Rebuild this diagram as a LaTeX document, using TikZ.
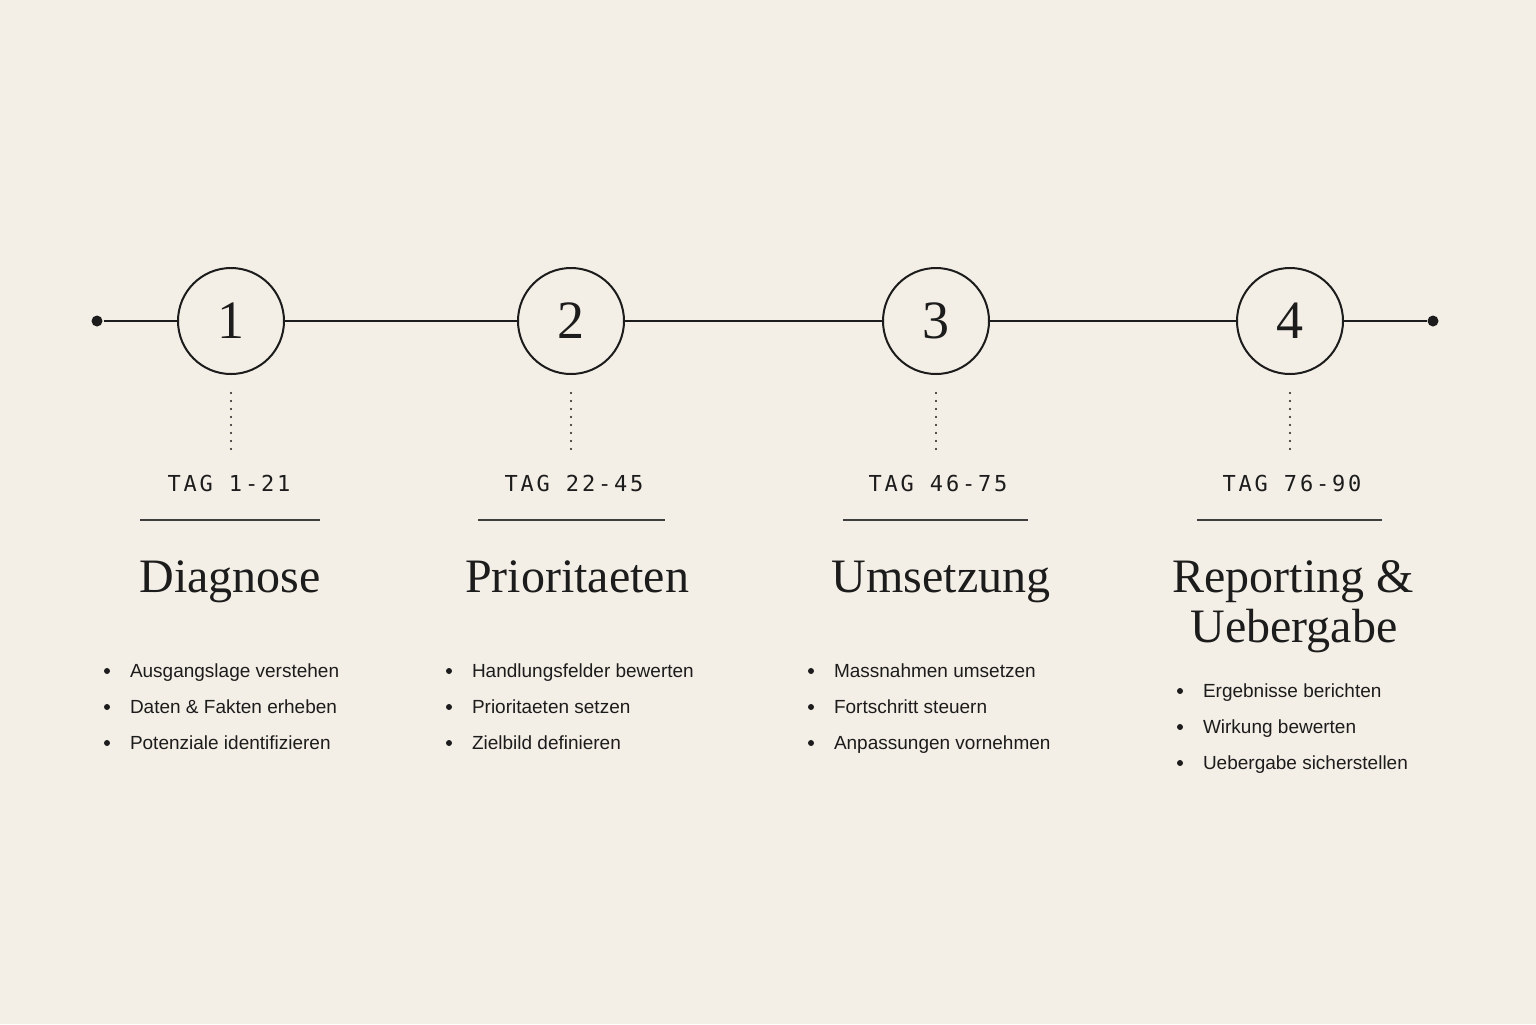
\documentclass[tikz,border=0pt]{standalone}
\usepackage{fontspec}
\setmainfont{Liberation Serif}
\setsansfont{Liberation Sans}
\newfontfamily\tagfont[LetterSpace=12.7]{DejaVu Sans Mono}
\definecolor{paper}{HTML}{F4EFE6}
\definecolor{ink}{HTML}{1C1C1C}

\begin{document}
\begin{tikzpicture}[x=0.5pt, y=-0.5pt, color=ink, line width=1pt,
    stage/.style={circle, draw, fill=paper, minimum size=53pt, inner sep=0pt, font=\fontsize{27}{27}\selectfont},
    stopdot/.style={circle, fill, minimum size=5.5pt, inner sep=0pt},
    daytag/.style={anchor=base, inner sep=1pt, font=\tagfont\fontsize{11}{13}\selectfont},
    heading/.style={anchor=base, inner sep=0pt, font=\fontsize{24}{26}\selectfont},
    item/.style={anchor=base west, inner sep=0pt, font=\sffamily\fontsize{9.5}{11}\selectfont},
    leader/.style={line width=1.2pt, line cap=round, dash pattern=on 0pt off 4pt},
    rule/.style={line width=0.6pt, draw=ink!85}]

  \fill[paper] (0,0) rectangle (1536,1024);

  % timeline
  \node[stopdot] (s) at (97,321) {};
  \node[stopdot] (e) at (1433,321) {};
  \node[stage] (c1) at (231,321) {1};
  \node[stage] (c2) at (571,321) {2};
  \node[stage] (c3) at (936,321) {3};
  \node[stage] (c4) at (1290,321) {4};
  \draw (s) -- (c1) -- (c2) -- (c3) -- (c4) -- (e);

  % day ranges
  \node[daytag] (t1) at (229,491) {TAG 1-21};
  \node[daytag] (t2) at (574,491) {TAG 22-45};
  \node[daytag] (t3) at (938,491) {TAG 46-75};
  \node[daytag] (t4) at (1292,491) {TAG 76-90};
  \draw[leader] ([yshift=-9pt]c1.south) -- ([yshift=-38pt]c1.south);
  \draw[leader] ([yshift=-9pt]c2.south) -- ([yshift=-38pt]c2.south);
  \draw[leader] ([yshift=-9pt]c3.south) -- ([yshift=-38pt]c3.south);
  \draw[leader] ([yshift=-9pt]c4.south) -- ([yshift=-38pt]c4.south);
  \draw[rule] (140,520) -- (320,520);
  \draw[rule] (478,520) -- (665,520);
  \draw[rule] (843,520) -- (1028,520);
  \draw[rule] (1197,520) -- (1382,520);

  % phase titles
  \node[heading] (h1) at (230,592) {Diagnose};
  \node[heading] (h2) at (577,592) {Prioritaeten};
  \node[heading] (h3) at (941,592) {Umsetzung};
  \node[heading] (h4) at (1293,592) {Reporting \&};
  \node[heading] (h4b) at (1294,642) {Uebergabe};

  % tasks
  \node[item] (d1) at (129,677) {Ausgangslage verstehen};
  \node[item] (d2) at (129,713) {Daten \& Fakten erheben};
  \node[item] (d3) at (129,749) {Potenziale identifizieren};
  \node[item] (p1) at (471,677) {Handlungsfelder bewerten};
  \node[item] (p2) at (471,713) {Prioritaeten setzen};
  \node[item] (p3) at (471,749) {Zielbild definieren};
  \node[item] (u1) at (833,677) {Massnahmen umsetzen};
  \node[item] (u2) at (833,713) {Fortschritt steuern};
  \node[item] (u3) at (833,749) {Anpassungen vornehmen};
  \node[item] (r1) at (1202,697) {Ergebnisse berichten};
  \node[item] (r2) at (1202,733) {Wirkung bewerten};
  \node[item] (r3) at (1202,769) {Uebergabe sicherstellen};
  \foreach \n in {d1,d2,d3,p1,p2,p3,u1,u2,u3,r1,r2,r3}
    \fill ([shift={(-22,-6)}]\n.base west) circle (1.5pt);
\end{tikzpicture}
\end{document}
